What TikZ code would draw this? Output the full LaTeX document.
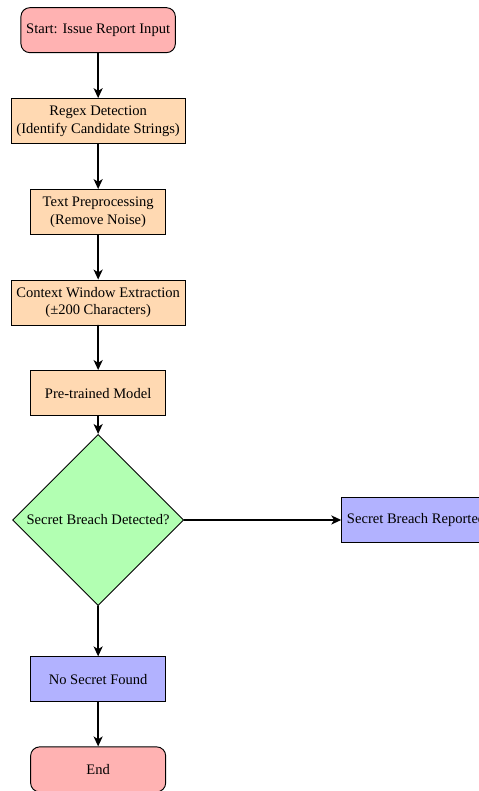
\documentclass[tikz,border=0pt]{standalone}
\usepackage{fontspec}
\setmainfont{Liberation Serif}
\usetikzlibrary{shapes.geometric,arrows.meta}

\begin{document}
\begin{tikzpicture}[font={\fontsize{9.2pt}{11pt}\selectfont},line cap=round,
        terminal/.style={rectangle, rounded corners=0.2cm, draw=black, fill=red!30, semithick, minimum width=3cm, minimum height=1cm, align=center},
        procbox/.style={rectangle, draw=black, fill=orange!30, semithick, minimum width=3cm, minimum height=1cm, align=center},
        outbox/.style={rectangle, draw=black, fill=blue!30, semithick, minimum width=3cm, minimum height=1cm, align=center},
        decbox/.style={diamond, draw=black, fill=green!30, semithick, aspect=1, inner sep=0pt, minimum width=3.8cm, minimum height=3.8cm, align=center},
        flow/.style={line width=1.1pt, -{Stealth[length=2.2mm, width=2mm, inset=0.6mm]}}]
            \useasboundingbox (-2.18, 0.67) rectangle (8.45, -16.9);

            \node[terminal] (start) at (0, 0) {Start: Issue Report Input};
            \node[procbox] (regex) at (0, -2.02) {Regex Detection\\(Identify Candidate Strings)};
            \node[procbox] (prep) at (0, -4.04) {Text Preprocessing\\(Remove Noise)};
            \node[procbox] (window) at (0, -6.05) {Context Window Extraction\\(\textpm200 Characters)};
            \node[procbox] (model) at (0, -8.06) {Pre-trained Model};

            \node[decbox] (breach) at (0, -10.88) {Secret Breach Detected?};

            \node[outbox, anchor=west] (reported) at (5.4, -10.88) {Secret Breach Reported};
            \node[outbox] (nosecret) at (0, -14.42) {No Secret Found};
            \node[terminal] (end) at (0, -16.42) {End};

            \draw[flow] (start) -- (regex);
            \draw[flow] (regex) -- (prep);
            \draw[flow] (prep) -- (window);
            \draw[flow] (window) -- (model);
            \draw[flow] (model) -- (breach);
            \draw[flow] (breach) -- (reported);
            \draw[flow] (breach) -- (nosecret);
            \draw[flow] (nosecret) -- (end);
        \end{tikzpicture}
\end{document}
